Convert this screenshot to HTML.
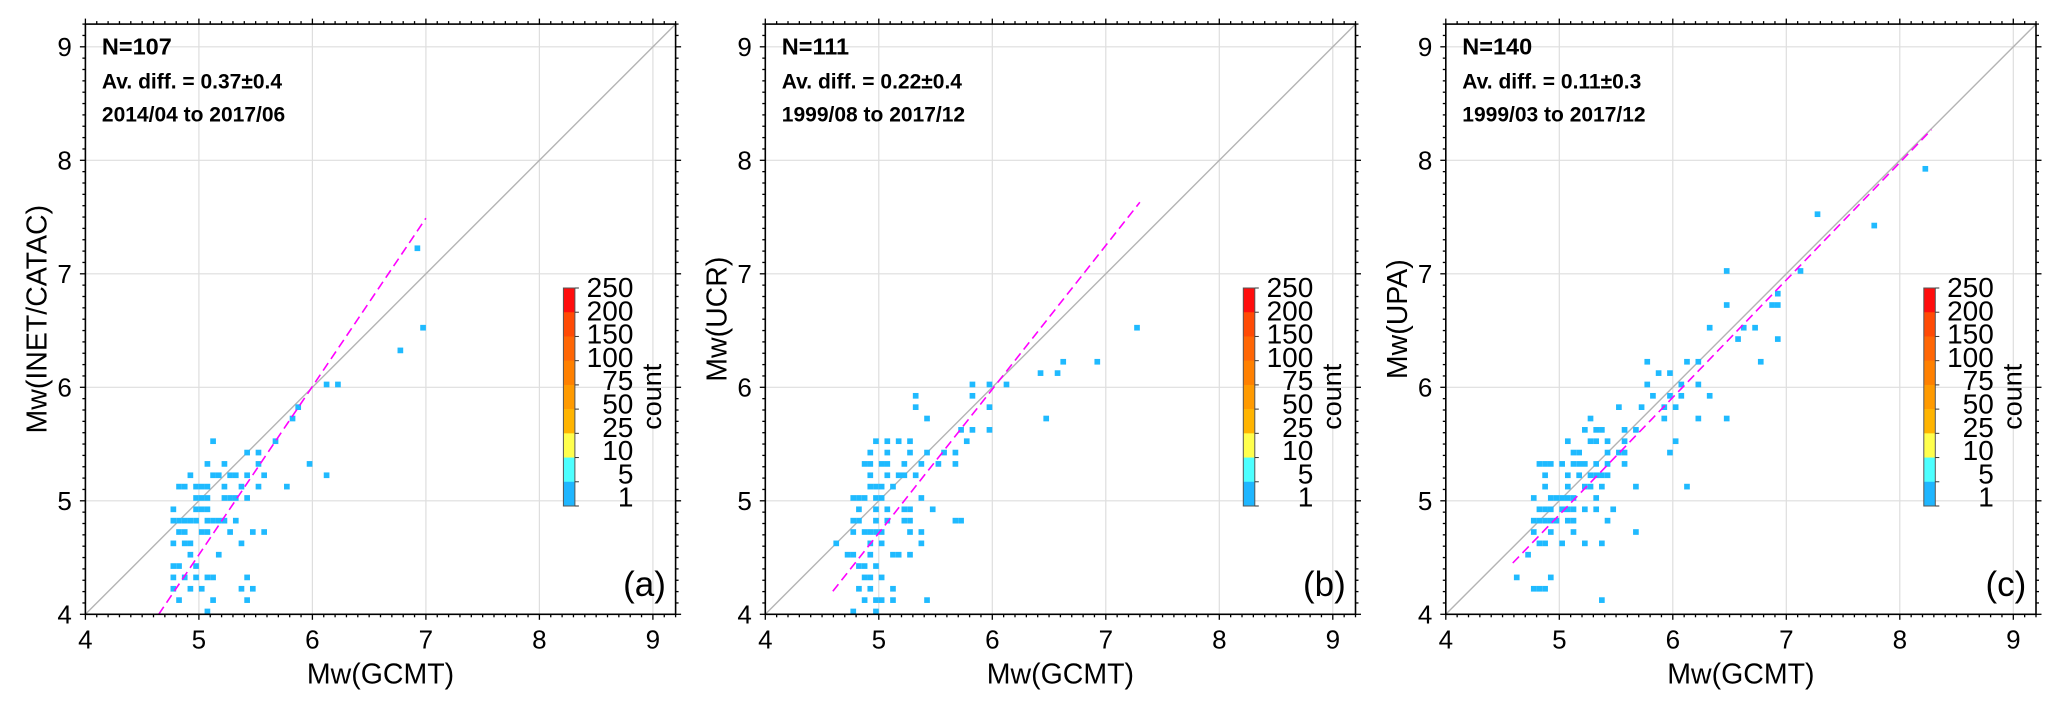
<!DOCTYPE html>
<html><head><meta charset="utf-8"><title>Mw comparison</title>
<style>
html,body{margin:0;padding:0;background:#fff;}
svg{display:block;font-family:"Liberation Sans",Arial,sans-serif;}
</style></head>
<body>
<svg id="chart" width="2064" height="707" viewBox="0 0 2064 707" xmlns="http://www.w3.org/2000/svg"></svg>
<script>
// ---- data ----
const tickValues = [4,5,6,7,8,9];
const cbLabels = ["250","200","150","100","75","50","25","10","5","1"];
const cbColors = ["#ff0d0d","#ff4a05","#ff6605","#ff8000","#ff9a00","#ffb400","#ffff4d","#4dffff","#1fb6ff"];

const panelNames = ["a","b","c"];
const panelYLabels = ["Mw(INET/CATAC)","Mw(UCR)","Mw(UPA)"];
const panelN = ["N=107","N=111","N=140"];
const panelDiff = ["Av. diff. = 0.37\u00B10.4","Av. diff. = 0.22\u00B10.4","Av. diff. = 0.11\u00B10.3"];
const panelPeriod = ["2014/04 to 2017/06","1999/08 to 2017/12","1999/03 to 2017/12"];

// regression line endpoints [x0,y0,x1,y1]
const fitA = [4.646,4.0,7.0,7.49];
const fitB = [4.595,4.203,7.3,7.63];
const fitC = [4.59,4.452,8.28,8.27];

// panel a cells: row y values and x values per row
const aRowsY = [4.0,4.1,4.2,4.3,4.4,4.5,4.6,4.7,4.8,4.9,5.0,5.1,5.2,5.3,5.4,5.5,5.7,5.8,6.0,6.3,6.5,7.2];
const aRowsX = [
 [5.05],[4.8,5.1,5.4],[4.75,4.9,5.0,5.35,5.45],[4.75,4.85,4.95,5.05,5.1,5.4],
 [4.75,4.8,4.95],[4.9,5.15],[4.75,4.85,4.9,5.35],[4.8,4.85,5.0,5.05,5.25,5.45,5.55],
 [4.75,4.8,4.85,4.9,4.95,5.05,5.1,5.15,5.2,5.3],[4.75,4.95,5.0,5.05],
 [4.95,5.0,5.05,5.2,5.25,5.3,5.4],[4.8,4.85,4.95,5.0,5.05,5.2,5.35,5.5,5.75],
 [4.9,5.1,5.15,5.25,5.3,5.4,5.55,6.1],[5.05,5.2,5.5,5.95],[5.4,5.5],[5.1,5.65],
 [5.8],[5.85],[6.1,6.2],[6.75],[6.95],[6.9]
];
// panel b
const bRowsY = [4.0,4.1,4.2,4.3,4.4,4.5,4.6,4.7,4.8,4.9,5.0,5.1,5.2,5.3,5.4,5.5,5.6,5.7,5.8,5.9,6.0,6.1,6.2,6.5];
const bRowsX = [
 [4.75,4.95],[4.85,4.95,5.0,5.1,5.4],[4.8,4.9,5.1],[4.85,4.9,5.0],[4.8,4.85,4.95],
 [4.7,4.75,4.9,5.1,5.15,5.25],[4.6,4.9,5.0,5.35],[4.75,4.85,4.9,4.95,5.0,5.25,5.35],
 [4.75,4.8,4.95,5.05,5.2,5.25,5.65,5.7],[4.8,4.95,5.05,5.2,5.25,5.45],
 [4.75,4.8,4.85,4.95,5.0,5.35],[4.9,4.95,5.0,5.1],[4.9,5.05,5.15,5.2,5.3],
 [4.85,4.9,5.0,5.05,5.2,5.35,5.5,5.65],[4.9,5.05,5.25,5.4,5.55,5.65],
 [4.95,5.05,5.15,5.25,5.75],[5.7,5.8,5.95],[5.4,6.45],[5.3,5.95],[5.3,5.8],
 [5.8,5.95,6.1],[6.4,6.55],[6.6,6.9],[7.25]
];
// panel c
const cRowsY = [4.1,4.2,4.3,4.5,4.6,4.7,4.8,4.9,5.0,5.1,5.2,5.3,5.4,5.5,5.6,5.7,5.8,5.9,6.0,6.1,6.2,6.4,6.5,6.7,6.8,7.0,7.4,7.5,7.9];
const cRowsX = [
 [5.35],[4.75,4.8,4.85],[4.6,4.9],[4.7],[4.8,4.85,5.0,5.2,5.35],[4.75,4.9,5.1,5.65],
 [4.75,4.8,4.85,4.9,4.95,5.05,5.1,5.4],[4.8,4.85,4.9,5.0,5.05,5.1,5.2,5.3,5.45],
 [4.75,4.9,4.95,5.0,5.05,5.1,5.3],[4.85,5.05,5.2,5.25,5.35,5.65,6.1],
 [4.85,5.05,5.15,5.25,5.3,5.35,5.4],[4.8,4.85,4.9,5.0,5.1,5.15,5.2,5.3,5.4,5.55],
 [5.1,5.15,5.4,5.5,5.55,5.95],[5.05,5.25,5.3,5.4,5.55,6.0],[5.2,5.3,5.35,5.55,5.65],
 [5.25,5.9,6.2,6.45],[5.5,5.7,5.9,6.0],[5.8,5.95,6.05,6.3],[5.75,6.05,6.2],[5.85,5.95],
 [5.75,6.1,6.2,6.75],[6.55,6.9],[6.3,6.6,6.7],[6.45,6.85,6.9],[6.9],[6.45,7.1],[7.75],[7.25],[8.2]
];

const panelRowsY = [aRowsY,bRowsY,cRowsY];
const panelRowsX = [aRowsX,bRowsX,cRowsX];
const panelFits = [fitA,fitB,fitC];

// ---- layout ----
const NS = "http://www.w3.org/2000/svg";
const svg = document.getElementById("chart");
const panelLeft = [85.4,765.3,1445.8];
const unit = 113.5, y4 = 614.3, vmin = 4, vmax = 9.2, binW = 0.05;

function mk(tag, attrs, parent){
  const e = document.createElementNS(NS, tag);
  for (const k in attrs) e.setAttribute(k, attrs[k]);
  parent.appendChild(e);
  return e;
}

panelNames.forEach((pn, p) => {
  const L = panelLeft[p];
  const sx = v => L + (v - vmin) * unit;
  const sy = v => y4 - (v - vmin) * unit;
  const R = sx(vmax), T = sy(vmax), B = sy(vmin);

  const g = mk("g", {}, svg);
  
  

  // grid
  const grid = mk("g", {stroke:"#dedede","stroke-width":"1.2"}, g);
  
  
  tickValues.forEach(v => {
    if (v === vmin) return;
    mk("line", {x1:sx(v), x2:sx(v), y1:T, y2:B}, grid);
    mk("line", {x1:L, x2:R, y1:sy(v), y2:sy(v)}, grid);
  });

  // 1:1 line
  const diag = mk("line", {x1:sx(vmin), y1:sy(vmin), x2:sx(vmax), y2:sy(vmax), stroke:"#b4b4b4", "stroke-width":"1.4"}, g);
  
  

  // cells
  const cells = mk("g", {fill:"#1fbaff"}, g);
  
  
  const ry = panelRowsY[p], rx = panelRowsX[p];
  ry.forEach((yv, i) => {
    rx[i].forEach(xv => {
      const r = mk("rect", {x:sx(xv), y:sy(yv + binW), width:(sx(xv + binW) - sx(xv)), height:(sy(yv) - sy(yv + binW))}, cells);
      
      
    });
  });

  // regression line
  const f = panelFits[p];
  const fit = mk("line", {x1:sx(f[0]), y1:sy(f[1]), x2:sx(f[2]), y2:sy(f[3]), stroke:"#ff00ff", "stroke-width":"1.6", "stroke-dasharray":"9 5"}, g);
  
  

  // frame
  const frame = mk("rect", {x:L, y:T, width:R-L, height:B-T, fill:"none", stroke:"#000", "stroke-width":"1.6"}, g);
  
  

  // ticks
  const ticks = mk("g", {stroke:"#000","stroke-width":"1.3"}, g);
  
  
  for (let k = 0; k <= 52; k++) {
    const v = vmin + k * 0.1;
    const major = (k % 10 === 0);
    const len = major ? 5.5 : 3;
    mk("line", {x1:sx(v), x2:sx(v), y1:B, y2:B + len}, ticks);
    mk("line", {x1:sx(v), x2:sx(v), y1:T, y2:T - len}, ticks);
    mk("line", {x1:L, x2:L - len, y1:sy(v), y2:sy(v)}, ticks);
    mk("line", {x1:R, x2:R + len, y1:sy(v), y2:sy(v)}, ticks);
  }

  // tick labels
  tickValues.forEach(v => {
    const tx = mk("text", {x:sx(v), y:648.5, "font-size":"26", "text-anchor":"middle", fill:"#000"}, g);
    tx.textContent = v;
    
    
    const ty = mk("text", {x:L - 13.5, y:sy(v) + 9.3, "font-size":"26", "text-anchor":"end", fill:"#000"}, g);
    ty.textContent = v;
    
    
  });

  // axis titles
  const xt = mk("text", {x:(L + R) / 2, y:683.5, "font-size":"28.5", "text-anchor":"middle"}, g);
  xt.textContent = "Mw(GCMT)";
  
  
  const cy = (T + B) / 2, cxp = L - 49;
  const yt = mk("text", {x:cxp, y:cy, "font-size":"28.5", "text-anchor":"middle", transform:"rotate(-90 " + cxp + " " + cy + ") translate(0 10)"}, g);
  yt.textContent = panelYLabels[p];
  
  

  // annotations
  const n = mk("text", {x:L + 16.5, y:54.3, "font-size":"23.5", "font-weight":"bold"}, g);
  n.textContent = panelN[p];
  
  
  const d = mk("text", {x:L + 16.5, y:88.3, "font-size":"21", "font-weight":"bold"}, g);
  d.textContent = panelDiff[p];
  
  
  const per = mk("text", {x:L + 16.5, y:121.7, "font-size":"21", "font-weight":"bold"}, g);
  per.textContent = panelPeriod[p];
  
  
  const pl = mk("text", {x:L + 580.5, y:596, "font-size":"35", "text-anchor":"end"}, g);
  pl.textContent = "(" + pn + ")";
  
  

  // colorbar
  const cb = mk("g", {}, g);
  
  
  const cbX = L + 478, cbW = 11.5, cbT = 288, cbB = 506;
  const segH = (cbB - cbT) / cbColors.length;
  cbColors.forEach((c, i) => {
    const s = mk("rect", {x:cbX, y:cbT + i * segH, width:cbW, height:segH + 0.3, fill:c}, cb);
    
    
  });
  mk("rect", {x:cbX, y:cbT, width:cbW, height:cbB - cbT, fill:"none", stroke:"#555", "stroke-width":"1"}, cb);
  cbLabels.forEach((lab, i) => {
    const yy = cbT + i * segH;
    mk("line", {x1:cbX + cbW, x2:cbX + cbW + 4, y1:yy, y2:yy, stroke:"#333", "stroke-width":"1"}, cb);
    const t = mk("text", {x:L + 548, y:cbT - 1 + i * 23.3 + 10, "font-size":"28", "text-anchor":"end"}, cb);
    t.textContent = lab;
    
    
  });
  const ccx = L + 566.3, ccy = 396.7;
  const ct = mk("text", {x:ccx, y:ccy, "font-size":"27", "text-anchor":"middle", transform:"rotate(-90 " + ccx + " " + ccy + ") translate(0 9.5)"}, cb);
  ct.textContent = "count";
  
  
});
</script>
</body></html>
